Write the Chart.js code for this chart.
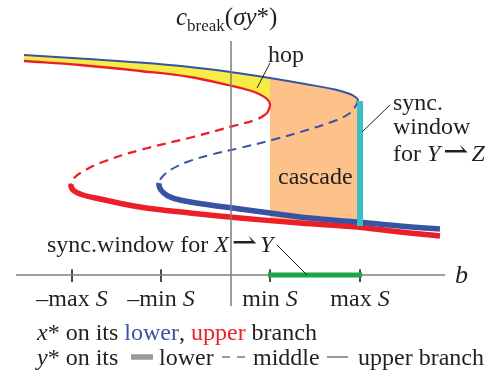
<!DOCTYPE html>
<html><head><meta charset="utf-8">
<script src="https://cdn.jsdelivr.net/npm/chart.js@4/dist/chart.umd.min.js"></script>
<style>html,body{margin:0;padding:0;background:#fff;}canvas{display:block;}</style>
</head><body>
<canvas id="chart" width="495" height="374"></canvas>
<script>
// ---- values (b = horizontal, c = c_break vertical) ----
const blueUpperB  = [-20.7,-15.1,-9.1,-4.1,-0.1,3.9,7.4,10.4,11.9,12.5,12.7];
const blueUpperC  = [22.0,21.65,21.25,20.8,20.3,19.7,19.1,18.55,18.1,17.75,17.5];
const blueMiddleB = [12.7,12.4,11.9,10.6,7.6,4.1,0.9,-2.1,-4.4,-5.9,-6.8,-7.2];
const blueMiddleC = [17.5,16.8,16.2,15.5,14.5,13.5,12.7,12.0,11.3,10.6,9.9,9.2];
const blueLowerB  = [-7.2,-7.0,-6.3,-5.1,-2.1,0.9,3.9,7.9,12.6,16.9,20.9];
const blueLowerC  = [9.2,8.5,7.9,7.5,7.0,6.6,6.2,5.7,5.3,4.9,4.6];

const redUpperB   = [-20.7,-15.1,-9.1,-4.1,-0.1,1.9,2.9,3.6,3.9,3.8,3.5];
const redUpperC   = [21.4,21.0,20.4,19.8,18.95,18.45,18.05,17.6,17.1,16.6,16.1];
const redMiddleB  = [3.5,2.4,0.6,-3.8,-9.1,-13.1,-14.9,-15.7,-16.0];
const redMiddleC  = [16.1,15.5,15.0,13.8,12.5,11.2,10.3,9.7,9.1];
const redLowerB   = [-16.0,-15.8,-14.8,-13.1,-9.1,-4.1,0.9,6.9,12.6,16.9,20.9];
const redLowerC   = [9.1,8.5,8.0,7.6,6.8,6.2,5.7,5.2,4.8,4.3,3.9];

// tick positions on the b axis and their labels
const tickB      = [-15.9, -7.0, 3.9, 12.9];
const tickLabels = [['–max ','S'], ['–min ','S'], ['min ','S'], ['max ','S']];

// special values
const minS = 3.9, maxS = 12.9;          // sync window for X -> Y (green) and cascade bounds
const cyanTopC = 17.4, cyanBottomC = 4.9;
const axisBRange = [-21.5, 21.4];
const axisCRange = [23.4, -3.1];

// ---- helpers ----
const pts = (bs, cs) => bs.map((b, i) => ({x: b, y: cs[i]}));
const BLUE = '#3953a4', RED = '#ec1f27', GRAY = '#7d7d7d', INK = '#231f20';

function curve(up, mid, low) {
  return up.concat(mid.slice(1), low.slice(1));
}
function branchSegment(nUp, nMid, thin, mid, thick) {
  const e1 = nUp - 1, e2 = nUp - 1 + nMid - 1;
  return {
    borderWidth: c => c.p0DataIndex < e1 ? thin : (c.p0DataIndex < e2 ? mid : thick),
    borderDash: c => (c.p0DataIndex >= e1 && c.p0DataIndex < e2) ? [9, 6] : []
  };
}

const blueUp = pts(blueUpperB, blueUpperC), blueMid = pts(blueMiddleB, blueMiddleC), blueLow = pts(blueLowerB, blueLowerC);
const redUp = pts(redUpperB, redUpperC), redMid = pts(redMiddleB, redMiddleC), redLow = pts(redLowerB, redLowerC);

// fill boundaries (monotone parts of the branches)
const redFoldIdx = redUpperB.indexOf(Math.max(...redUpperB));
const yellowTop = blueUp.filter(p => p.x <= minS);
const yellowBottom = redUp.slice(0, redFoldIdx + 1);
const orangeTop = blueUp.filter(p => p.x >= minS);
const orangeBottom = redLow.slice(1);

const ticksData = [];
tickB.forEach(b => { ticksData.push({x: b, y: 0.55}, {x: b, y: -0.7}, {x: b, y: null}); });

const leaders = [
  {x: 3.9, y: 21.2}, {x: 2.6, y: 18.7}, {x: 0, y: null},
  {x: 13.1, y: 14.3}, {x: 15.9, y: 17.0}, {x: 0, y: null},
  {x: 4.6, y: 3.0}, {x: 7.6, y: 0}
];

const base = {pointRadius: 0, borderCapStyle: 'butt', fill: false, tension: 0};

const datasets = [
  Object.assign({}, base, {label: 'leaders', data: leaders, borderColor: '#222', borderWidth: 1, spanGaps: false}),
  Object.assign({}, base, {label: 'sync X-Y', data: [{x: minS - 0.2, y: 0}, {x: maxS + 0.2, y: 0}], borderColor: '#1ba64c', borderWidth: 5}),
  Object.assign({}, base, {label: 'vaxis', data: [{x: 0, y: axisCRange[0]}, {x: 0, y: axisCRange[1]}], borderColor: GRAY, borderWidth: 1.5}),
  Object.assign({}, base, {label: 'haxis', data: [{x: axisBRange[0], y: 0}, {x: axisBRange[1], y: 0}], borderColor: GRAY, borderWidth: 1.5}),
  Object.assign({}, base, {label: 'ticks', data: ticksData, borderColor: '#333', borderWidth: 1, spanGaps: false}),
  Object.assign({}, base, {label: 'sync Y-Z', data: [{x: maxS, y: cyanTopC}, {x: maxS, y: cyanBottomC}], borderColor: '#3bbfc7', borderWidth: 6}),
  Object.assign({}, base, {label: 'blue', data: curve(blueUp, blueMid, blueLow), borderColor: BLUE, tension: 0.4,
    segment: branchSegment(blueUp.length, blueMid.length, 2, 2, 5.5)}),
  Object.assign({}, base, {label: 'red', data: curve(redUp, redMid, redLow), borderColor: RED, tension: 0.4,
    segment: branchSegment(redUp.length, redMid.length, 2.3, 2.3, 5.5)}),
  Object.assign({}, base, {label: 'orangeTop', data: orangeTop, borderColor: 'rgba(0,0,0,0)', borderWidth: 1, tension: 0.4,
    fill: '+1', backgroundColor: '#fcc28a'}),
  Object.assign({}, base, {label: 'orangeBottom', data: orangeBottom, borderColor: 'rgba(0,0,0,0)', borderWidth: 1, tension: 0.4}),
  Object.assign({}, base, {label: 'yellowTop', data: yellowTop, borderColor: 'rgba(0,0,0,0)', borderWidth: 1, tension: 0.4,
    fill: '+1', backgroundColor: '#f7ec45'}),
  Object.assign({}, base, {label: 'yellowBottom', data: yellowBottom, borderColor: 'rgba(0,0,0,0)', borderWidth: 1, tension: 0.4})
];

// ---- text ----
const FONT = '"Liberation Serif","Times New Roman","DejaVu Serif",serif';
function runFont(r) { return (r.it ? 'italic ' : '') + (r.size || 24) + 'px ' + FONT; }
function runsWidth(ctx, runs) {
  let w = 0;
  runs.forEach(r => { ctx.font = runFont(r); w += ctx.measureText(r.t).width; });
  return w;
}
function drawRuns(ctx, x, y, runs) {
  runs.forEach(r => {
    if (r.gap) { x += r.gap; return; }
    ctx.font = runFont(r);
    ctx.fillStyle = r.color || INK;
    ctx.fillText(r.t, x, y + (r.dy || 0));
    x += ctx.measureText(r.t).width;
  });
  return x;
}
const harpoon = [{gap: 3}, {t: '⇀', size: 30}, {gap: 3}];

const textPlugin = {
  id: 'texts',
  afterDatasetsDraw(chart) {
    const ctx = chart.ctx;
    const xs = chart.scales.x;
    ctx.save();
    ctx.textBaseline = 'alphabetic';
    ctx.textAlign = 'left';
    // axis titles
    drawRuns(ctx, 176, 25, [{t: 'c', it: 1, size: 25}, {t: 'break', size: 17, dy: 6}, {t: '(', size: 25}, {t: 'σy', it: 1, size: 25}, {t: '*)', size: 25}]);
    drawRuns(ctx, 455, 283, [{t: 'b', it: 1, size: 26}]);
    // tick labels
    tickB.forEach((b, i) => {
      const runs = [{t: tickLabels[i][0]}, {t: tickLabels[i][1], it: 1}];
      const w = runsWidth(ctx, runs);
      drawRuns(ctx, xs.getPixelForValue(b) - w / 2, 306, runs);
    });
    // annotations
    drawRuns(ctx, 268, 62, [{t: 'hop'}]);
    drawRuns(ctx, 278, 184, [{t: 'cascade'}]);
    drawRuns(ctx, 393, 110, [{t: 'sync.'}]);
    drawRuns(ctx, 393, 134, [{t: 'window'}]);
    drawRuns(ctx, 393, 161, [{t: 'for '}, {t: 'Y', it: 1}].concat(harpoon, [{t: 'Z', it: 1}]));
    drawRuns(ctx, 47, 252, [{t: 'sync.window for '}, {t: 'X', it: 1}].concat(harpoon, [{t: 'Y', it: 1}]));
    // legend
    drawRuns(ctx, 37, 340, [{t: 'x', it: 1}, {t: '* on its '}, {t: 'lower', color: BLUE}, {t: ', '}, {t: 'upper', color: RED}, {t: ' branch'}]);
    drawRuns(ctx, 37, 365, [{t: 'y', it: 1}, {t: '* on its'}]);
    drawRuns(ctx, 159, 365, [{t: 'lower'}]);
    drawRuns(ctx, 253, 365, [{t: 'middle'}]);
    drawRuns(ctx, 358, 365, [{t: 'upper branch'}]);
    ctx.strokeStyle = '#9a9a9a';
    ctx.lineCap = 'butt';
    ctx.lineWidth = 5.5; ctx.beginPath(); ctx.moveTo(131, 357); ctx.lineTo(153, 357); ctx.stroke();
    ctx.lineWidth = 2; ctx.beginPath(); ctx.moveTo(222, 357); ctx.lineTo(230, 357); ctx.moveTo(237, 357); ctx.lineTo(245, 357); ctx.stroke();
    ctx.lineWidth = 2; ctx.beginPath(); ctx.moveTo(327, 357); ctx.lineTo(348, 357); ctx.stroke();
    ctx.restore();
  }
};

new Chart(document.getElementById('chart'), {
  type: 'line',
  data: {datasets},
  options: {
    responsive: false,
    animation: false,
    devicePixelRatio: 1,
    events: [],
    layout: {padding: 0},
    plugins: {legend: {display: false}, tooltip: {enabled: false}, title: {display: false}},
    scales: {
      x: {type: 'linear', min: -23.1, max: 26.4, display: false},
      y: {type: 'linear', min: -9.9, max: 27.5, display: false}
    }
  },
  plugins: [textPlugin]
});
</script>
</body></html>
